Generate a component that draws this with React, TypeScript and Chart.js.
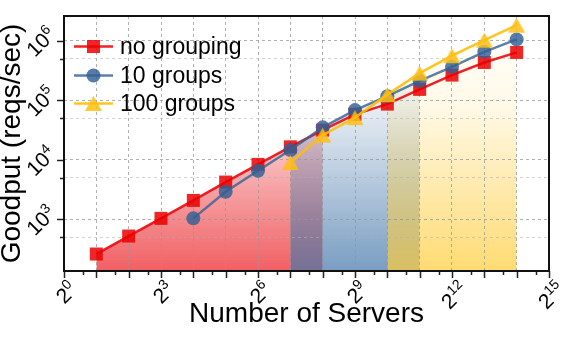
import React, { useEffect, useRef } from "react";
import { Chart, registerables } from "chart.js";

Chart.register(...registerables);

const FONT = '"Liberation Sans", Arial, Helvetica, sans-serif';

// ---- data ----
const seriesNames = ["no grouping", "10 groups", "100 groups"];

const noGroupingServers = [2, 4, 8, 16, 32, 64, 128, 256, 512, 1024, 2048, 4096, 8192, 16384];
const noGroupingGoodput = [262, 525, 1040, 2080, 4230, 8370, 16500, 31500, 58000, 86000, 152000, 264000, 430000, 634000];

const tenGroupsServers = [16, 32, 64, 128, 256, 512, 1024, 2048, 4096, 8192, 16384];
const tenGroupsGoodput = [1040, 2900, 6530, 14600, 35000, 68200, 117000, 211000, 363000, 649000, 1048000];

const hundredGroupsServers = [128, 256, 512, 1024, 2048, 4096, 8192, 16384];
const hundredGroupsGoodput = [8980, 25900, 51000, 124000, 285000, 560000, 1018000, 1820000];

// shaded server ranges under each curve
const noGroupingFillRange = [2, 256];
const tenGroupsFillRange = [128, 2048];
const hundredGroupsFillRange = [1024, 16384];

// axis ticks
const xTickExponents = [0, 1, 2, 3, 4, 5, 6, 7, 8, 9, 10, 11, 12, 13, 14, 15];
const xLabelExponents = [0, 3, 6, 9, 12, 15];
const yLabelExponents = [3, 4, 5, 6];
const yGridValues = [500, 1000, 5000, 10000, 50000, 100000, 500000, 1000000];

const xTitle = "Number of Servers";
const yTitle = "Goodput (reqs/sec)";

const X_MIN = 1;
const X_MAX = 32768;
const Y_MIN = 136;
const Y_MAX = 2590000;

// ---- styles ----
const RED_LINE = "rgba(235,10,15,0.9)";
const RED_MARK = "rgba(235,0,0,0.85)";
const BLUE_LINE = "rgba(55,100,150,0.82)";
const BLUE_MARK = "rgba(50,95,148,0.82)";
const YEL_LINE = "rgba(255,190,10,0.9)";
const YEL_MARK = "rgba(255,190,20,0.85)";
const RED_FILL = "235,35,40";
const BLUE_FILL = "70,120,170";
const YEL_FILL = "255,205,60";

function toPoints(xs: number[], ys: number[]) {
  return xs.map((x, i) => ({ x, y: ys[i] }));
}

function inRange(xs: number[], ys: number[], r: number[]) {
  return toPoints(xs, ys).filter((p) => p.x >= r[0] && p.x <= r[1]);
}

function makeTriangle(color: string, w: number, h: number) {
  const c = document.createElement("canvas");
  c.width = Math.ceil(w) + 2;
  c.height = Math.ceil(h) + 2;
  const g = c.getContext("2d")!;
  const cx = c.width / 2;
  const cy = c.height / 2;
  g.fillStyle = color;
  g.beginPath();
  g.moveTo(cx, cy - h / 2);
  g.lineTo(cx + w / 2, cy + h / 2);
  g.lineTo(cx - w / 2, cy + h / 2);
  g.closePath();
  g.fill();
  return c;
}

function gradientFor(rgb: string) {
  return (ctx: any) => {
    const chart = ctx.chart;
    const area = chart.chartArea;
    if (!area) return `rgba(${rgb},0.4)`;
    const g = chart.ctx.createLinearGradient(0, area.top, 0, area.bottom);
    g.addColorStop(0, `rgba(${rgb},0)`);
    g.addColorStop(0.35, `rgba(${rgb},0.12)`);
    g.addColorStop(1, `rgba(${rgb},0.72)`);
    return g;
  };
}

function drawPow(
  ctx: CanvasRenderingContext2D,
  base: string,
  exp: string,
  ax: number,
  ay: number,
  mode: "top" | "right"
) {
  const fb = 21;
  const fs = 14;
  ctx.save();
  ctx.font = `${fb}px ${FONT}`;
  const wb = ctx.measureText(base).width;
  ctx.font = `${fs}px ${FONT}`;
  const ws = ctx.measureText(exp).width;
  const capB = 0.716 * fb;
  const capS = 0.716 * fs;
  const rise = capB * 0.55;
  const W = wb + ws;
  const H = Math.max(capB, rise + capS);
  const D = (W + H) / Math.SQRT2;
  let cx: number;
  let cy: number;
  if (mode === "top") {
    cx = ax;
    cy = ay + D / 2;
  } else {
    cx = ax - D / 2;
    cy = ay;
  }
  ctx.translate(cx, cy);
  ctx.rotate(-Math.PI / 4);
  ctx.fillStyle = "#000";
  ctx.textAlign = "left";
  ctx.textBaseline = "alphabetic";
  const x0 = -W / 2;
  const y0 = H / 2;
  ctx.font = `${fb}px ${FONT}`;
  ctx.fillText(base, x0, y0);
  ctx.font = `${fs}px ${FONT}`;
  ctx.fillText(exp, x0 + wb, y0 - rise);
  ctx.restore();
}

export default function App() {
  const ref = useRef<HTMLCanvasElement | null>(null);

  useEffect(() => {
    const canvas = ref.current;
    if (!canvas) return;

    const triMark = makeTriangle(YEL_MARK, 17, 15);

    const axesPlugin = {
      id: "axesDecor",
      afterDraw(chart: any) {
        const { ctx, chartArea: a, scales } = chart;
        const xs = scales.x;
        const ys = scales.y;
        ctx.save();
        // tick marks
        ctx.strokeStyle = "#222";
        ctx.lineWidth = 1.5;
        ctx.beginPath();
        xTickExponents.forEach((e) => {
          const px = Math.round(xs.getPixelForValue(2 ** e)) + 0.5;
          ctx.moveTo(px, a.bottom);
          ctx.lineTo(px, a.bottom + 7);
          if (e < 15) {
            const pm = Math.round(xs.getPixelForValue(1.5 * 2 ** e)) + 0.5;
            ctx.moveTo(pm, a.bottom);
            ctx.lineTo(pm, a.bottom + 4);
          }
        });
        yGridValues.forEach((v) => {
          const py = Math.round(ys.getPixelForValue(v)) + 0.5;
          const major = Math.abs(Math.log10(v) - Math.round(Math.log10(v))) < 1e-6;
          ctx.moveTo(a.left, py);
          ctx.lineTo(a.left - (major ? 7 : 4), py);
        });
        ctx.stroke();
        // frame
        ctx.strokeStyle = "#111";
        ctx.lineWidth = 2;
        ctx.strokeRect(a.left, a.top, a.right - a.left, a.bottom - a.top);
        ctx.restore();

        // tick labels
        xLabelExponents.forEach((e) => {
          const px = xs.getPixelForValue(2 ** e);
          drawPow(ctx, "2", String(e), px + 1, a.bottom + 7, "top");
        });
        yLabelExponents.forEach((e) => {
          const py = ys.getPixelForValue(10 ** e);
          drawPow(ctx, "10", String(e), a.left - 7, py, "right");
        });

        // legend
        const rows = [46.5, 75.5, 103.5];
        const lineX0 = 74;
        const lineX1 = 113;
        const mx = (lineX0 + lineX1) / 2;
        const styles = [
          { line: RED_LINE, mark: RED_MARK, kind: "rect" },
          { line: BLUE_LINE, mark: BLUE_MARK, kind: "circle" },
          { line: YEL_LINE, mark: YEL_MARK, kind: "tri" },
        ];
        ctx.save();
        styles.forEach((s, i) => {
          const y = rows[i];
          ctx.strokeStyle = s.line;
          ctx.lineWidth = 2.5;
          ctx.beginPath();
          ctx.moveTo(lineX0, y);
          ctx.lineTo(lineX1, y);
          ctx.stroke();
          ctx.fillStyle = s.mark;
          if (s.kind === "rect") {
            ctx.fillRect(mx - 6.5, y - 6.5, 13, 13);
          } else if (s.kind === "circle") {
            ctx.beginPath();
            ctx.arc(mx, y, 7, 0, Math.PI * 2);
            ctx.fill();
          } else {
            ctx.drawImage(triMark, mx - triMark.width / 2, y - triMark.height / 2);
          }
          ctx.fillStyle = "#000";
          ctx.font = `23px ${FONT}`;
          ctx.textAlign = "left";
          ctx.textBaseline = "middle";
          ctx.fillText(seriesNames[i], 120, y + 1);
        });
        ctx.restore();
      },
    };

    const chart = new Chart(canvas, {
      type: "line",
      data: {
        datasets: [
          {
            label: "fill-" + seriesNames[0],
            data: inRange(noGroupingServers, noGroupingGoodput, noGroupingFillRange),
            borderWidth: 0,
            pointRadius: 0,
            fill: "start",
            backgroundColor: gradientFor(RED_FILL),
            order: 5,
          },
          {
            label: "fill-" + seriesNames[1],
            data: inRange(tenGroupsServers, tenGroupsGoodput, tenGroupsFillRange),
            borderWidth: 0,
            pointRadius: 0,
            fill: "start",
            backgroundColor: gradientFor(BLUE_FILL),
            order: 4,
          },
          {
            label: "fill-" + seriesNames[2],
            data: inRange(hundredGroupsServers, hundredGroupsGoodput, hundredGroupsFillRange),
            borderWidth: 0,
            pointRadius: 0,
            fill: "start",
            backgroundColor: gradientFor(YEL_FILL),
            order: 3,
          },
          {
            label: seriesNames[0],
            data: toPoints(noGroupingServers, noGroupingGoodput),
            borderColor: RED_LINE,
            borderWidth: 2.5,
            pointStyle: "rect",
            pointRadius: 9.2,
            pointBackgroundColor: RED_MARK,
            pointBorderWidth: 0,
            fill: false,
            order: 2,
          },
          {
            label: seriesNames[1],
            data: toPoints(tenGroupsServers, tenGroupsGoodput),
            borderColor: BLUE_LINE,
            borderWidth: 2.5,
            pointStyle: "circle",
            pointRadius: 7,
            pointBackgroundColor: BLUE_MARK,
            pointBorderWidth: 0,
            fill: false,
            order: 1,
          },
          {
            label: seriesNames[2],
            data: toPoints(hundredGroupsServers, hundredGroupsGoodput),
            borderColor: YEL_LINE,
            borderWidth: 2.5,
            pointStyle: triMark as any,
            pointRadius: 9,
            pointBackgroundColor: YEL_MARK,
            pointBorderWidth: 0,
            fill: false,
            order: 0,
          },
        ],
      },
      options: {
        responsive: false,
        animation: false,
        devicePixelRatio: 1,
        layout: { padding: { left: 0, top: 16, right: 22, bottom: 0 } },
        plugins: {
          legend: { display: false },
          tooltip: { enabled: false },
          filler: { propagate: false, drawTime: "beforeDraw" } as any,
        },
        scales: {
          x: {
            type: "logarithmic",
            min: X_MIN,
            max: X_MAX,
            afterBuildTicks: (s: any) => {
              s.ticks = xTickExponents.map((e) => ({ value: 2 ** e }));
            },
            afterFit: (s: any) => {
              s.height = 67;
            },
            ticks: { display: false, autoSkip: false },
            grid: { color: "rgba(150,150,150,0.75)", lineWidth: 1, drawTicks: false },
            border: { display: false, dash: [3, 3] },
            title: {
              display: true,
              text: xTitle,
              color: "#000",
              font: { family: FONT, size: 28, lineHeight: 1 },
              padding: { top: 0, bottom: 10 },
            },
          },
          y: {
            type: "logarithmic",
            min: Y_MIN,
            max: Y_MAX,
            afterBuildTicks: (s: any) => {
              s.ticks = yGridValues.map((v) => ({ value: v }));
            },
            afterFit: (s: any) => {
              s.width = 64;
            },
            ticks: { display: false, autoSkip: false },
            grid: {
              color: (c: any) => {
                const v = c.tick ? c.tick.value : 1;
                const l = Math.log10(v);
                return Math.abs(l - Math.round(l)) < 1e-6
                  ? "rgba(150,150,150,0.75)"
                  : "rgba(175,175,175,0.55)";
              },
              lineWidth: 1,
              drawTicks: false,
            },
            border: { display: false, dash: [3, 3] },
            title: {
              display: true,
              text: yTitle,
              color: "#000",
              font: { family: FONT, size: 28, lineHeight: 0.85 },
              padding: 0,
            },
          },
        },
      },
      plugins: [axesPlugin],
    } as any);

    return () => {
      chart.destroy();
    };
  }, []);

  return (
    <div style={{ position: "fixed", left: 0, top: 0, width: 571, height: 338, background: "#fff" }}>
      <canvas ref={ref} width={571} height={338} style={{ display: "block", width: 571, height: 338 }} />
    </div>
  );
}
